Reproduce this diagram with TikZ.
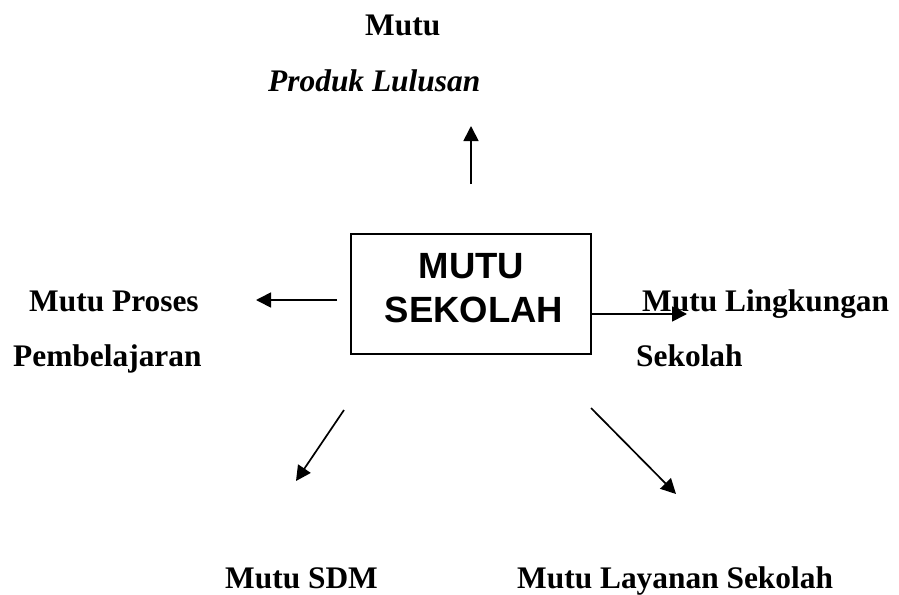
\documentclass[tikz,border=0pt]{standalone}
\usepackage{fontspec}
\setmainfont{Liberation Serif}
\newfontfamily\boxfont{Liberation Sans}
\usetikzlibrary{arrows.meta}
\tikzset{
  lbl/.style={anchor=base west, inner sep=0pt, font=\fontsize{31.4}{37}\selectfont\bfseries},
  boxlbl/.style={anchor=base, inner sep=0pt, font=\boxfont\fontsize{36.5}{44}\selectfont\bfseries},
  arr/.style={line width=1.7pt, -{Triangle[length=15pt,width=15pt]}},
  centerbox/.style={draw, line width=1.5pt, minimum width=240pt, minimum height=120pt, inner sep=0pt}
}
\begin{document}
\begin{tikzpicture}[x=1pt,y=-1pt]
\useasboundingbox (0,0) rectangle (899,594);
% central box
\node[centerbox] (box) at (471,294) {};
\node[boxlbl] (t1) at (471.5,278) {MUTU};
\node[boxlbl] (t2) at (474,322) {SEKOLAH};
% labels
\node[lbl] (mutu) at (365,36) {Mutu};
\node[lbl, font=\fontsize{31.4}{37}\selectfont\bfseries\itshape] (produk) at (268,91) {Produk Lulusan};
\node[lbl] (proses) at (29,311) {Mutu Proses};
\node[lbl] (pemb) at (13,366) {Pembelajaran};
\node[lbl] (ling) at (642,311) {Mutu Lingkungan};
\node[lbl] (sek) at (636,366) {Sekolah};
\node[lbl] (sdm) at (225,588) {Mutu SDM};
\node[lbl] (lay) at (517,588) {Mutu Layanan Sekolah};
% arrow end points
\coordinate (uA) at (471,184); \coordinate (uB) at (471,126);
\coordinate (lA) at (337,300); \coordinate (lB) at (256,300);
\coordinate (rA) at (591,314); \coordinate (rB) at (687,314);
\coordinate (dlA) at (344,410); \coordinate (dlB) at (296,481);
\coordinate (drA) at (591,408); \coordinate (drB) at (676,494);
\draw[arr] (uA) -- (uB);
\draw[arr] (lA) -- (lB);
\draw[arr] (rA) -- (rB);
\draw[arr] (dlA) -- (dlB);
\draw[arr] (drA) -- (drB);
\end{tikzpicture}
\end{document}
